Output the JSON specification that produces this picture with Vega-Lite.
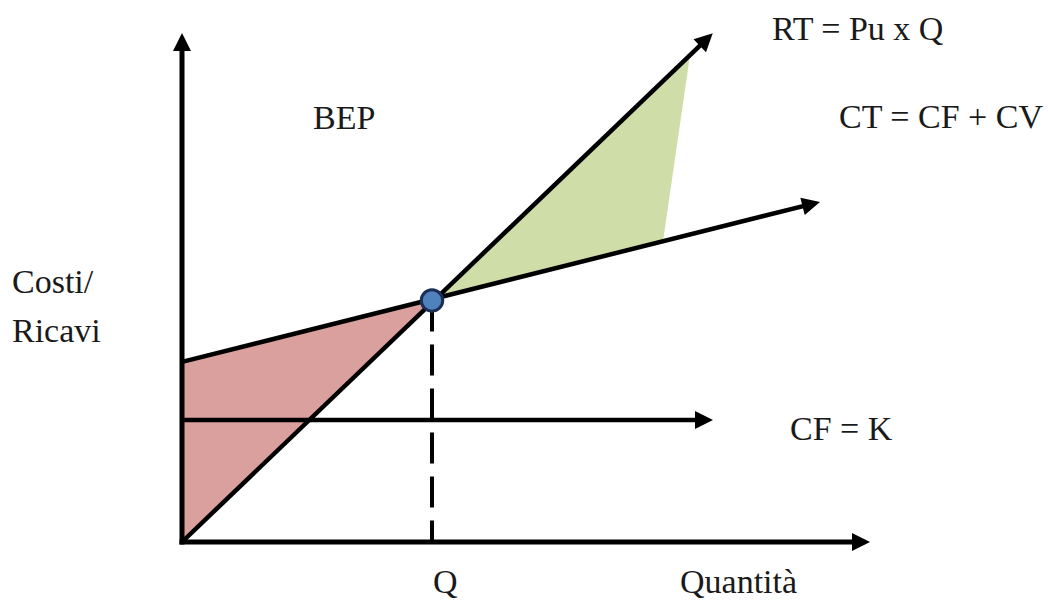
{
  "$schema": "https://vega.github.io/schema/vega-lite/v6.json",
  "autosize": {"type": "fit", "contains": "padding"},
  "width": 1048,
  "height": 603,
  "padding": 0,
  "background": "white",
  "config": {"view": {"stroke": null}},
  "datasets": {
    "tratti": [
      {"serie": "asseY", "ordine": 1, "q": 0, "v": 0},
      {"serie": "asseY", "ordine": 2, "q": 0, "v": 205.3},
      {"serie": "asseX", "ordine": 1, "q": 0, "v": 0},
      {"serie": "asseX", "ordine": 2, "q": 27.2, "v": 0},
      {"serie": "CF", "ordine": 1, "q": 0, "v": 50},
      {"serie": "CF", "ordine": 2, "q": 20.92, "v": 50},
      {"serie": "RT", "ordine": 1, "q": 0, "v": 0},
      {"serie": "RT", "ordine": 2, "q": 21.0, "v": 206.2},
      {"serie": "CT", "ordine": 1, "q": 0, "v": 73.8},
      {"serie": "CT", "ordine": 2, "q": 25.21, "v": 138.6},
      {"serie": "Qbep", "ordine": 1, "q": 10, "v": 99},
      {"serie": "Qbep", "ordine": 2, "q": 10, "v": 0}
    ],
    "punte": [
      {"serie": "asseY", "q": 0, "v": 208.6},
      {"serie": "asseX", "q": 27.52, "v": 0},
      {"serie": "CF", "q": 21.24, "v": 50},
      {"serie": "RT", "q": 21.23, "v": 208.5},
      {"serie": "CT", "q": 25.52, "v": 139.34}
    ],
    "perdita": [
      {"q": 0, "v": 0, "v2": 73.8},
      {"q": 10, "v": 99, "v2": 99}
    ],
    "utile": [
      {"v": 99, "q": 10, "q2": 10},
      {"v": 123.2, "q": 12.55, "q2": 19.24},
      {"v": 199.5, "q": 20.32, "q2": 20.32}
    ],
    "pareggio": [
      {"q": 10, "v": 99}
    ],
    "etichette": [
      {"testo": "RT = Pu x Q", "q": 23.6, "v": 205.7},
      {"testo": "CT = CF + CV", "q": 26.28, "v": 169.7},
      {"testo": "BEP", "q": 5.24, "v": 169.3},
      {"testo": "Costi/", "q": -6.8, "v": 102.0},
      {"testo": "Ricavi", "q": -6.8, "v": 82.0},
      {"testo": "CF = K", "q": 24.32, "v": 41.8},
      {"testo": "Q", "q": 10.04, "v": -20.9},
      {"testo": "Quantità", "q": 19.92, "v": -20.9}
    ]
  },
  "encoding": {
    "x": {"field": "q", "type": "quantitative", "axis": null,
          "scale": {"domain": [-7.28, 34.64], "nice": false, "zero": false}},
    "y": {"field": "v", "type": "quantitative", "axis": null,
          "scale": {"domain": [-25.0, 222.13], "nice": false, "zero": false}}
  },
  "layer": [
    {
      "data": {"name": "perdita"},
      "mark": {"type": "area", "orient": "vertical", "color": "#d9a09e", "opacity": 1},
      "encoding": {"y2": {"field": "v2"}}
    },
    {
      "data": {"name": "utile"},
      "mark": {"type": "area", "orient": "horizontal", "color": "#cfdea9", "opacity": 1},
      "encoding": {"x2": {"field": "q2"}}
    },
    {
      "data": {"name": "tratti"},
      "transform": [{"filter": "datum.serie === 'Qbep'"}],
      "mark": {"type": "line", "color": "black", "strokeWidth": 4, "strokeDash": [31, 13]},
      "encoding": {"order": {"field": "ordine", "type": "quantitative"}}
    },
    {
      "data": {"name": "tratti"},
      "transform": [{"filter": "datum.serie === 'asseX' || datum.serie === 'asseY'"}],
      "mark": {"type": "line", "color": "black", "strokeWidth": 5, "strokeCap": "square"},
      "encoding": {
        "detail": {"field": "serie", "type": "nominal"},
        "order": {"field": "ordine", "type": "quantitative"}
      }
    },
    {
      "data": {"name": "tratti"},
      "transform": [{"filter": "datum.serie === 'CF' || datum.serie === 'RT' || datum.serie === 'CT'"}],
      "mark": {"type": "line", "color": "black", "strokeWidth": 4.5, "strokeCap": "butt"},
      "encoding": {
        "detail": {"field": "serie", "type": "nominal"},
        "order": {"field": "ordine", "type": "quantitative"}
      }
    },
    {
      "data": {"name": "punte"},
      "transform": [{"filter": "datum.serie === 'asseY'"}],
      "mark": {"type": "point", "shape": "M0,0L0.5,1L-0.5,1Z", "size": 1296, "filled": true, "color": "black", "opacity": 1, "angle": 0}
    },
    {
      "data": {"name": "punte"},
      "transform": [{"filter": "datum.serie === 'asseX' || datum.serie === 'CF'"}],
      "mark": {"type": "point", "shape": "M0,0L0.5,1L-0.5,1Z", "size": 1296, "filled": true, "color": "black", "opacity": 1, "angle": 90}
    },
    {
      "data": {"name": "punte"},
      "transform": [{"filter": "datum.serie === 'RT'"}],
      "mark": {"type": "point", "shape": "M0,0L0.5,1L-0.5,1Z", "size": 1296, "filled": true, "color": "black", "opacity": 1, "angle": 46.2}
    },
    {
      "data": {"name": "punte"},
      "transform": [{"filter": "datum.serie === 'CT'"}],
      "mark": {"type": "point", "shape": "M0,0L0.5,1L-0.5,1Z", "size": 1296, "filled": true, "color": "black", "opacity": 1, "angle": 75.9}
    },
    {
      "data": {"name": "pareggio"},
      "mark": {"type": "point", "shape": "circle", "size": 460, "filled": true, "fill": "#4f81bd", "stroke": "#1c2e55", "strokeWidth": 3, "opacity": 1}
    },
    {
      "data": {"name": "etichette"},
      "mark": {"type": "text", "align": "left", "baseline": "alphabetic", "font": "Liberation Serif", "fontSize": 34, "color": "#1a1a1a"},
      "encoding": {"text": {"field": "testo", "type": "nominal"}}
    }
  ]
}
